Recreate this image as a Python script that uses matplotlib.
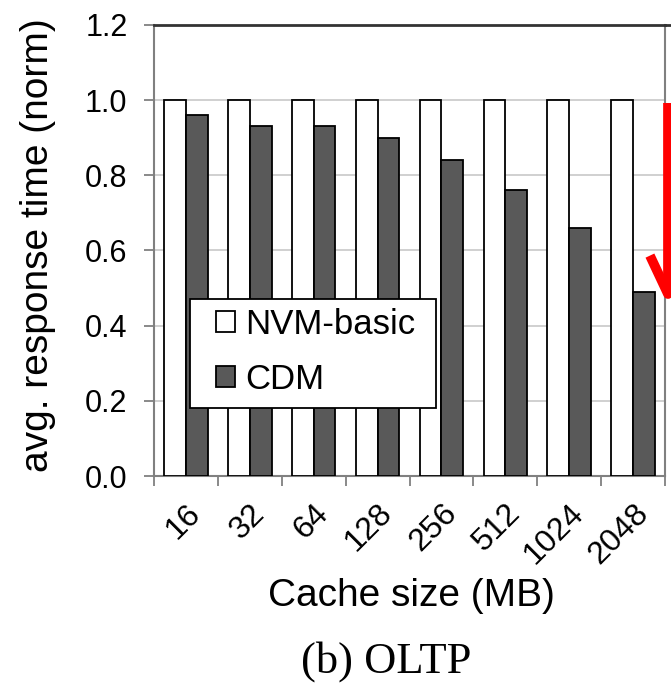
import matplotlib
matplotlib.use("Agg")
import matplotlib.pyplot as plt
import numpy as np
from matplotlib.lines import Line2D
from matplotlib.patches import Rectangle

categories = ["16", "32", "64", "128", "256", "512", "1024", "2048"]
nvm_basic = [1.0, 1.0, 1.0, 1.0, 1.0, 1.0, 1.0, 1.0]
cdm = [0.96, 0.93, 0.93, 0.90, 0.84, 0.76, 0.66, 0.49]
yticks = [0.0, 0.2, 0.4, 0.6, 0.8, 1.0, 1.2]

plt.rcParams['font.family'] = ['Liberation Sans', 'DejaVu Sans']

W, H = 671, 687
L, R, T, B = 154, 665, 25, 476
fig = plt.figure(figsize=(W / 100, H / 100), dpi=100)
ax = fig.add_axes([L / W, 1 - B / H, (R - L) / W, (B - T) / H])

def axx(px):
    return (px - L) / (R - L)

def axy(py):
    return (B - py) / (B - T)

x = np.arange(len(categories))
bw = 0.34
ax.bar(x - bw / 2, nvm_basic, bw, color="white", edgecolor="black", linewidth=1.3,
       label="NVM-basic", zorder=3)
ax.bar(x + bw / 2, cdm, bw, color="#595959", edgecolor="black", linewidth=1.3,
       label="CDM", zorder=3)

ax.set_xlim(-0.5, len(categories) - 0.5)
ax.set_ylim(0, 1.2)
ax.set_yticks(yticks)
ax.set_yticklabels([f"{v:.1f}" for v in yticks], fontsize=22)
ax.yaxis.grid(True, color="#c8c8c8", linewidth=1.2, zorder=0)
ax.axhline(1.2, color="#333333", linewidth=2, zorder=4, clip_on=False)
fig.add_artist(Line2D([R / W, 1.0], [1 - T / H, 1 - T / H], color="#333333",
                      linewidth=2, transform=fig.transFigure))

ax.set_xticks(x)
ax.set_xticklabels(categories, fontsize=23, rotation=45, ha="right",
                   rotation_mode="anchor")
ax.set_xticks(np.arange(-0.5, len(categories), 1.0), minor=True)
ax.tick_params(axis="x", which="major", length=0, pad=16)
ax.tick_params(axis="x", which="minor", length=7, width=1.3, color="#808080")
ax.tick_params(axis="y", length=7, width=1.3, color="#808080", pad=12)

for s in ["left", "bottom", "right"]:
    ax.spines[s].set_color("#808080")
    ax.spines[s].set_linewidth(1.5)
ax.spines["top"].set_visible(False)

ax.set_ylabel("avg. response time (norm)", fontsize=28)
ax.yaxis.set_label_coords(axx(38), axy(245))
ax.set_xlabel("Cache size (MB)", fontsize=28)
ax.xaxis.set_label_coords(axx(411), axy(596))
ax.xaxis.label.set_va("center")
ax.yaxis.label.set_va("center")

# legend frame
frame = Rectangle((axx(190), axy(408)), axx(436) - axx(190), axy(299) - axy(408),
                  transform=ax.transAxes, facecolor="white", edgecolor="black",
                  linewidth=1.3, zorder=9, clip_on=False)
ax.add_patch(frame)
leg = ax.legend(loc="upper left", bbox_to_anchor=(axx(216), axy(308)),
                fontsize=25, frameon=False,
                handlelength=0.55, handleheight=0.55, handletextpad=0.3,
                borderpad=0.0, labelspacing=0.62, borderaxespad=0)
leg.set_zorder(10)

fig.text(386 / W, 1 - 662 / H, "(b) OLTP", ha="center", va="center",
         fontsize=32, family=["Liberation Serif", "DejaVu Serif"])

# red arrow annotation at right edge
ax_x = 668 / W
fig.add_artist(Line2D([ax_x, ax_x], [1 - 103 / H, 1 - 292 / H], color="red",
                      linewidth=7, transform=fig.transFigure, solid_capstyle="butt"))
fig.add_artist(Line2D([652 / W, ax_x, 684 / W], [1 - 260 / H, 1 - 294 / H, 1 - 260 / H],
                      color="red", linewidth=7, transform=fig.transFigure))

fig.savefig("out.png", dpi=100)
